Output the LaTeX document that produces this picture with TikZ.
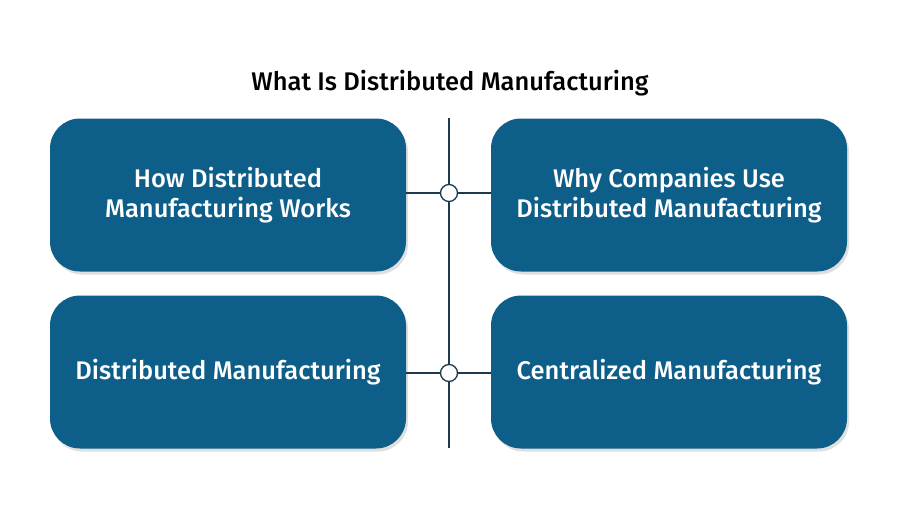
\documentclass[tikz,border=0pt]{standalone}
\usepackage{fontspec}
\setmainfont{Fira Sans}
\newfontfamily\medf{Fira Sans Medium}
\usetikzlibrary{shadows}
\definecolor{boxc}{HTML}{0D5E88}
\definecolor{linec}{HTML}{1E3A4E}
\begin{document}
\begin{tikzpicture}[x=1pt,y=-1pt,
  box/.style={draw=none,fill=boxc,rounded corners=30pt,minimum width=356pt,minimum height=153pt,text=white,align=center,font=\medf\fontsize{25.5}{30}\selectfont,drop shadow={opacity=0.25,shadow xshift=2pt,shadow yshift=-3pt}},
  dot/.style={circle,draw=linec,line width=1.3pt,fill=white,minimum size=17pt,inner sep=0pt},
  ln/.style={draw=linec,line width=1.3pt}]
\useasboundingbox (0,0) rectangle (900,514);
\node[font=\medf\fontsize{25.5}{30}\selectfont] (title) at (450,83) {What Is Distributed Manufacturing};
\coordinate (top) at (449,118);
\coordinate (bot) at (449,448);
\draw[ln] (top) -- (bot);
\node[box] (a) at (228,195) {How Distributed\\Manufacturing Works};
\node[box] (b) at (669,195) {Why Companies Use\\Distributed Manufacturing};
\node[box] (c) at (228,372) {Distributed Manufacturing};
\node[box] (d) at (669,372) {Centralized Manufacturing};
\node[dot] (d1) at (449,193) {};
\node[dot] (d2) at (449,373) {};
\draw[ln] (a.east|-d1) -- (d1) -- (b.west|-d1);
\draw[ln] (c.east|-d2) -- (d2) -- (d.west|-d2);
\end{tikzpicture}
\end{document}
